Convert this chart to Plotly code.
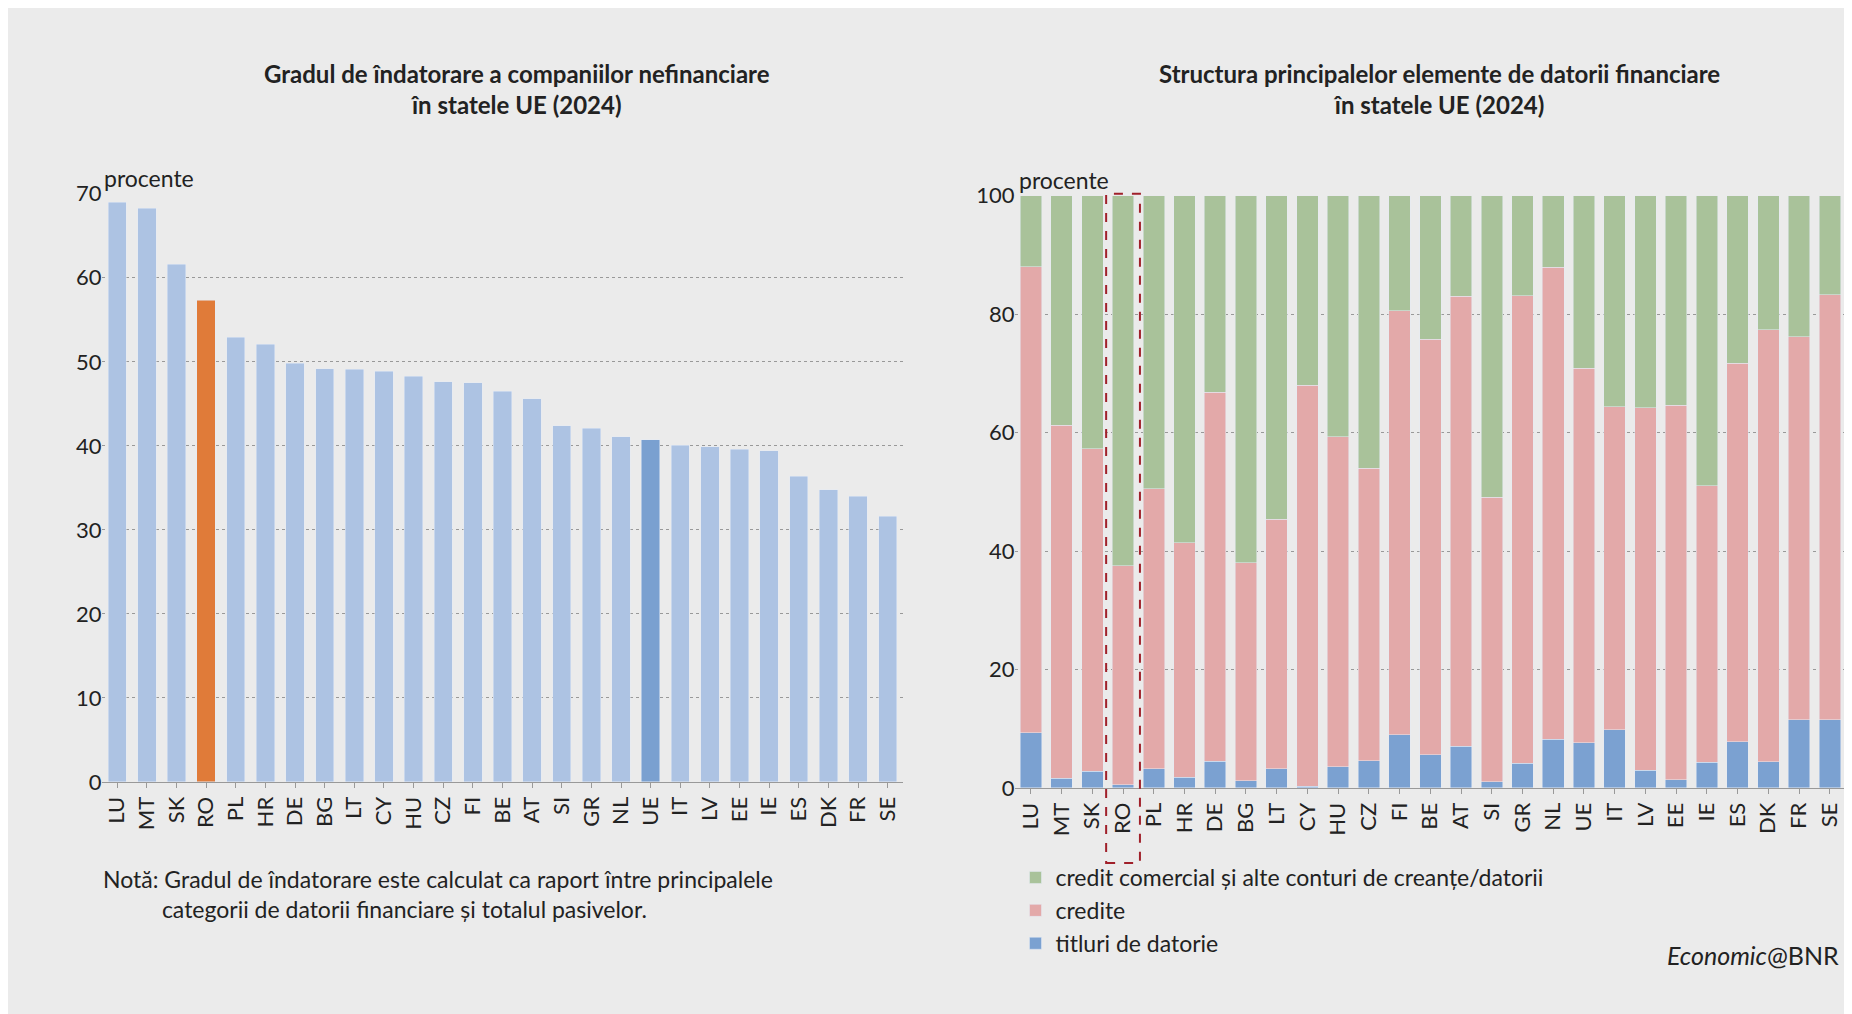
import plotly.graph_objects as go

countries_left = ["LU","MT","SK","RO","PL","HR","DE","BG","LT","CY","HU","CZ","FI","BE","AT","SI","GR","NL","UE","IT","LV","EE","IE","ES","DK","FR","SE"]
indebtedness = [69.0,68.3,61.6,57.3,52.9,52.1,49.8,49.2,49.1,48.9,48.3,47.6,47.5,46.5,45.6,42.4,42.1,41.1,40.7,40.1,39.9,39.6,39.4,36.4,34.8,34.0,31.6]

countries_right = ["LU","MT","SK","RO","PL","HR","DE","BG","LT","CY","HU","CZ","FI","BE","AT","SI","GR","NL","UE","IT","LV","EE","IE","ES","DK","FR","SE"]
titluri = [9.3,1.6,2.8,0.5,3.2,1.8,4.5,1.2,3.2,0.3,3.6,4.6,9.0,5.6,7.0,1.0,4.2,8.2,7.6,9.8,3.0,1.4,4.3,7.8,4.4,11.5,11.5]
credite = [78.7,59.6,54.5,37.0,47.3,39.6,62.3,36.8,42.2,67.7,55.7,49.4,71.6,70.2,76.0,48.1,78.9,79.7,63.3,54.6,61.2,63.2,46.7,63.9,73.0,64.7,71.8]
comercial = [12.0,38.8,42.7,62.5,49.5,58.6,33.2,62.0,54.6,32.0,40.7,46.0,19.4,24.2,17.0,50.9,16.9,12.1,29.1,35.6,35.8,35.4,49.0,28.3,22.6,23.8,16.7]

FONT = "Lato"
left_colors = ["#e07b39" if c == "RO" else ("#7aa0d0" if c == "UE" else "#adc3e3") for c in countries_left]

fig = go.Figure()
fig.add_trace(go.Bar(x=countries_left, y=indebtedness, marker_color=left_colors, width=0.62,
                     showlegend=False, xaxis="x", yaxis="y"))
fig.add_trace(go.Bar(x=countries_right, y=titluri, name="titluri de datorie", marker_color="#7ba1d1",
                     width=0.7, xaxis="x2", yaxis="y2"))
fig.add_trace(go.Bar(x=countries_right, y=credite, name="credite", marker_color="#e3a9a9",
                     width=0.7, xaxis="x2", yaxis="y2"))
fig.add_trace(go.Bar(x=countries_right, y=comercial, name="credit comercial și alte conturi de creanțe/datorii",
                     marker_color="#a9c29a", width=0.7, xaxis="x2", yaxis="y2"))

tf = dict(size=22, color="#222")
fig.update_layout(
    width=1852, height=1014, barmode="stack",
    paper_bgcolor="#ebebeb", plot_bgcolor="#ebebeb",
    margin=dict(l=0, r=0, t=0, b=0),
    font=dict(family=FONT, color="#222"),
    xaxis=dict(domain=[0.051, 0.483], anchor="y", tickangle=-90, showline=True, linecolor="#999",
               ticks="outside", ticklen=5, tickcolor="#999", tickfont=tf, zeroline=False),
    yaxis=dict(domain=[0.230, 0.826], anchor="x", range=[0, 70], dtick=10, tickfont=tf, zeroline=False,
               showline=False, showgrid=True, gridcolor="#999", griddash="dot", gridwidth=1),
    xaxis2=dict(domain=[0.544, 0.992], anchor="y2", tickangle=-90, showline=True, linecolor="#999",
                ticks="outside", ticklen=5, tickcolor="#999", tickfont=tf, zeroline=False),
    yaxis2=dict(domain=[0.224, 0.824], anchor="x2", range=[0, 100], dtick=20, tickfont=tf, zeroline=False,
                showline=False, showgrid=True, gridcolor="#999", griddash="dot", gridwidth=1),
    legend=dict(x=0.544, y=0.155, xanchor="left", yanchor="top", traceorder="reversed",
                font=dict(size=23), bgcolor="rgba(0,0,0,0)", itemwidth=30, tracegroupgap=0),
    bargap=0.3,
)

fig.add_annotation(text="<b>Gradul de îndatorare a companiilor nefinanciare<br>în statele UE (2024)</b>",
                   xref="paper", yref="paper", x=0.275, y=0.965, xanchor="center", yanchor="top",
                   showarrow=False, font=dict(size=24))
fig.add_annotation(text="<b>Structura principalelor elemente de datorii financiare<br>în statele UE (2024)</b>",
                   xref="paper", yref="paper", x=0.773, y=0.965, xanchor="center", yanchor="top",
                   showarrow=False, font=dict(size=24))
fig.add_annotation(text="procente", xref="paper", yref="paper", x=0.051, y=0.826, xanchor="left",
                   yanchor="bottom", showarrow=False, font=dict(size=23))
fig.add_annotation(text="procente", xref="paper", yref="paper", x=0.545, y=0.824, xanchor="left",
                   yanchor="bottom", showarrow=False, font=dict(size=23))
fig.add_annotation(text="Notă: Gradul de îndatorare este calculat ca raport între principalele<br>          categorii de datorii financiare și totalul pasivelor.",
                   xref="paper", yref="paper", x=0.050, y=0.148, xanchor="left", yanchor="top",
                   align="left", showarrow=False, font=dict(size=23))
fig.add_annotation(text="<i>Economic</i>@BNR", xref="paper", yref="paper", x=0.99, y=0.055,
                   xanchor="right", yanchor="middle", showarrow=False, font=dict(size=25))
fig.add_shape(type="rect", xref="x2", yref="paper", x0=2.45, x1=3.55, y0=0.148, y1=0.826,
              line=dict(color="#a0202a", width=2, dash="dash"))

fig.write_html("out.html")
